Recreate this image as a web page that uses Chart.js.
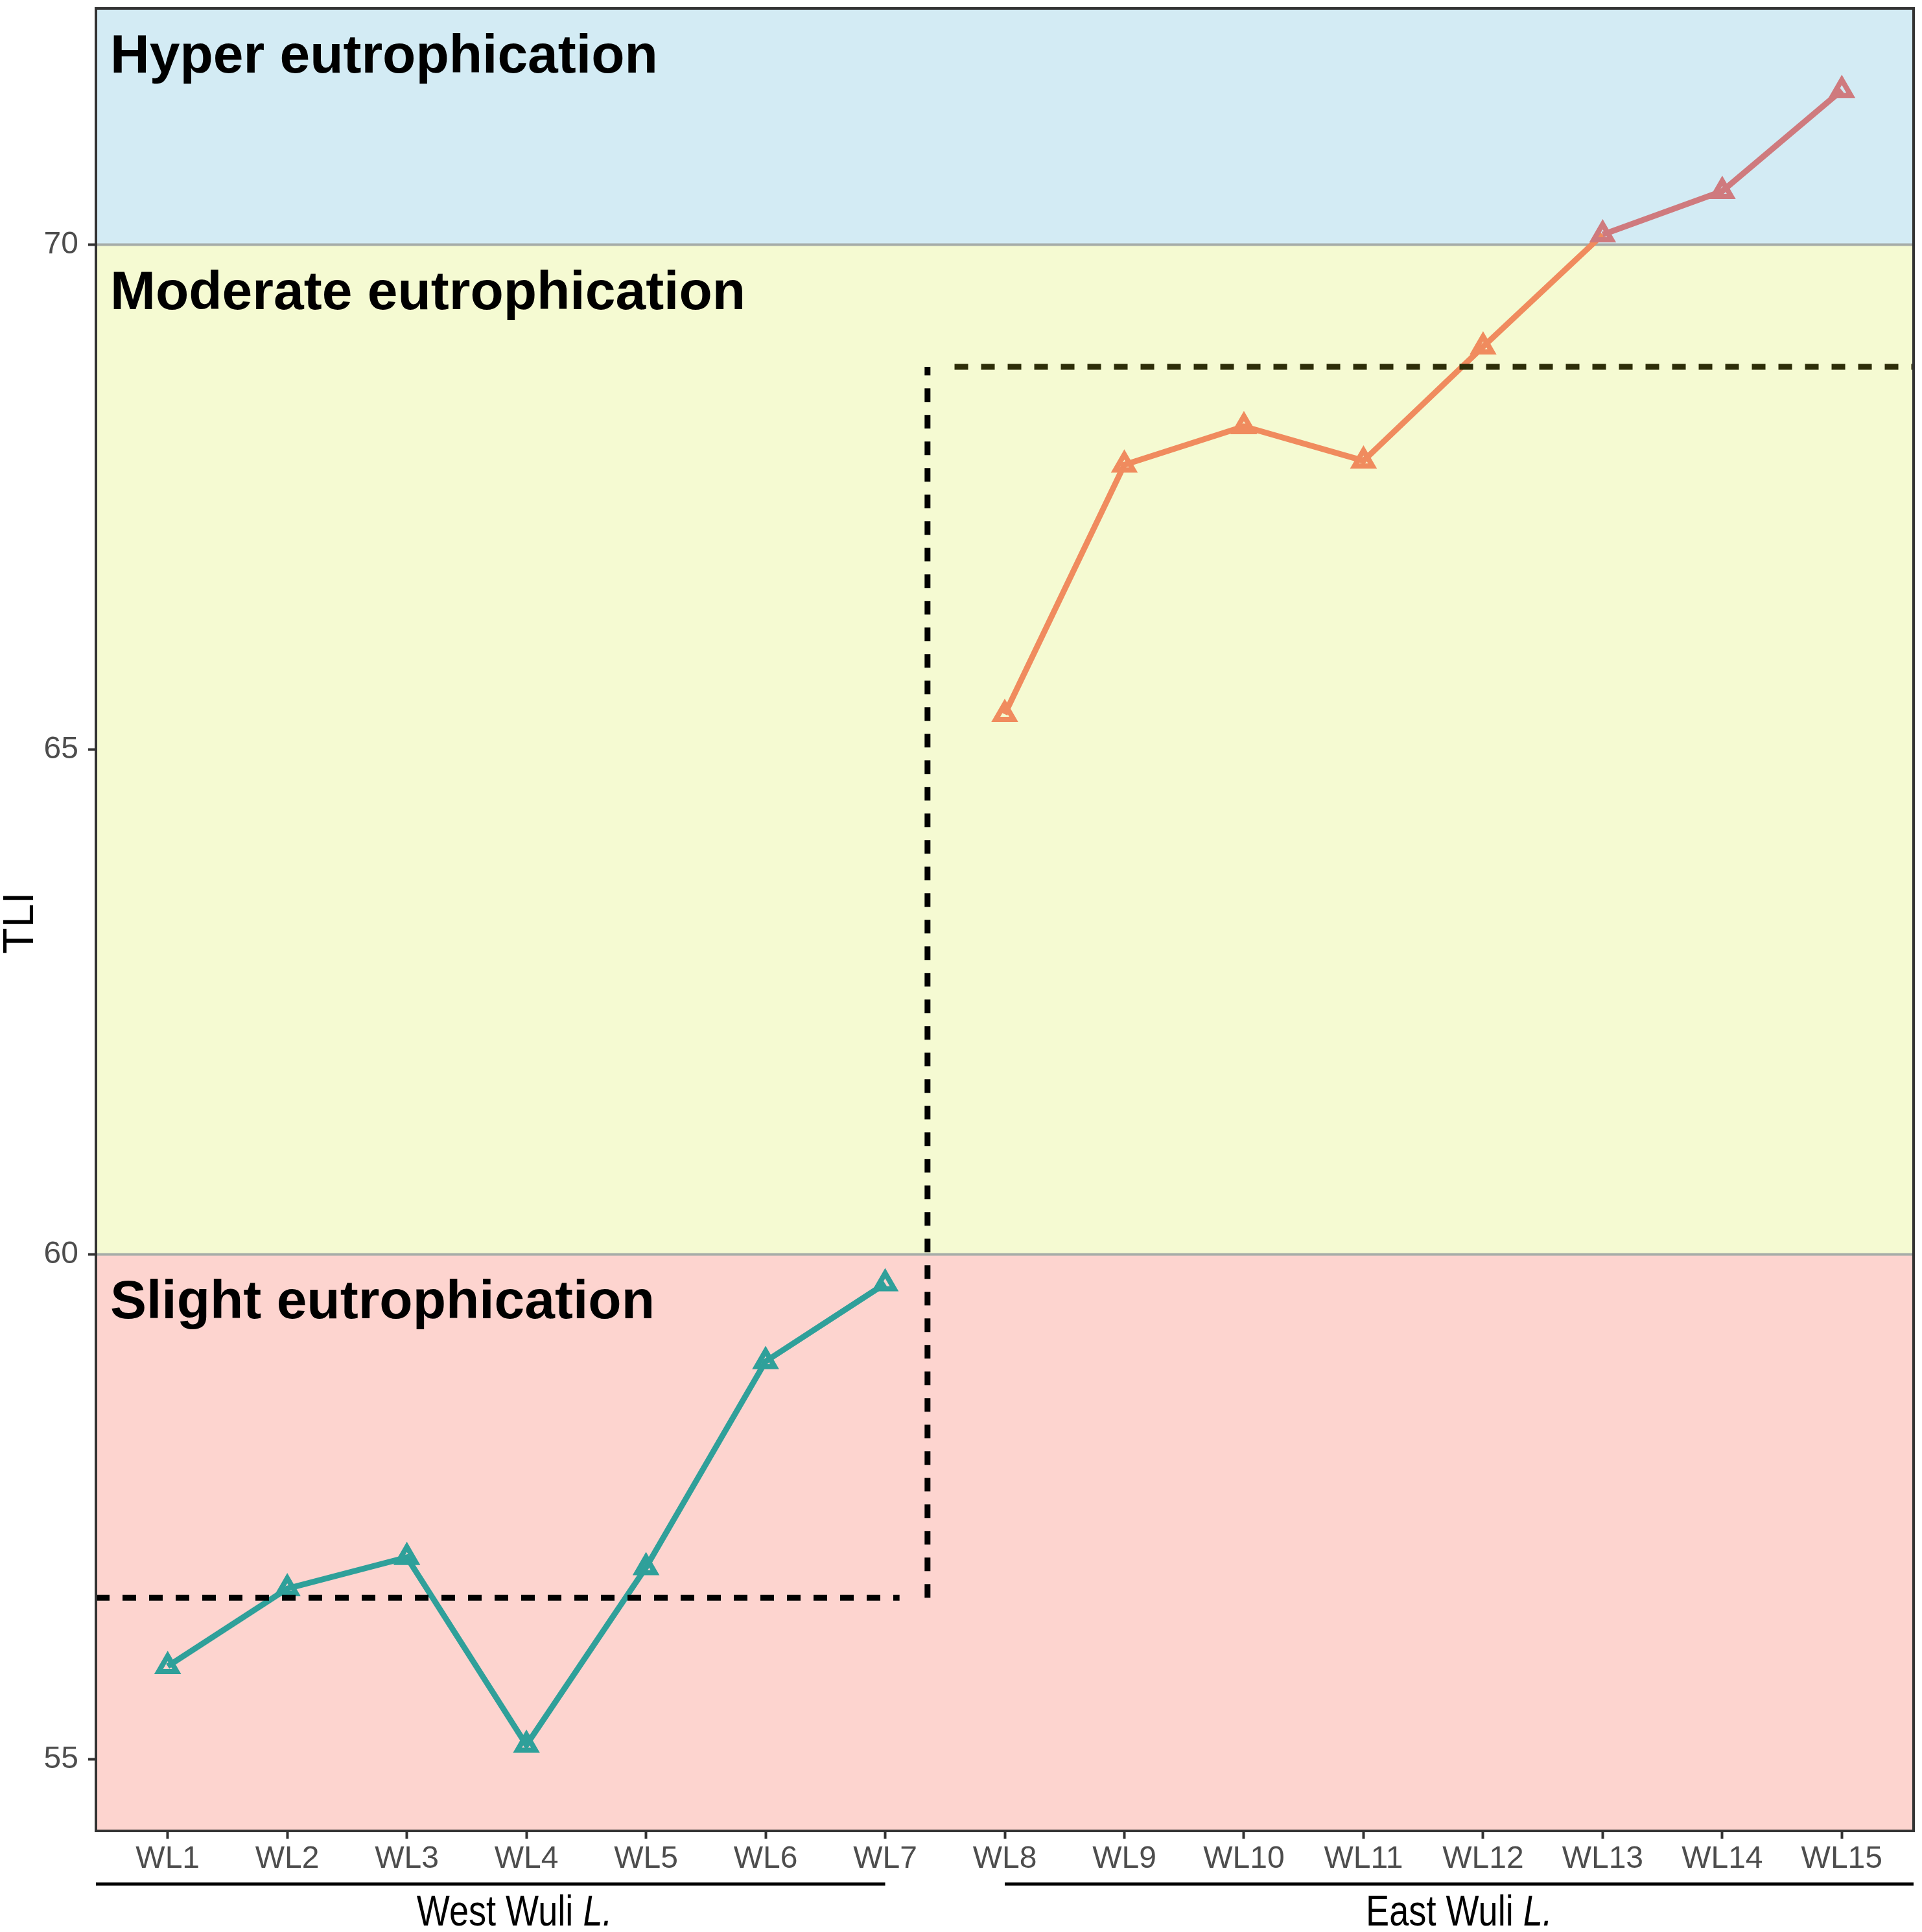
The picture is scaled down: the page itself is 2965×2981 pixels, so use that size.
<!DOCTYPE html>
<html>
<head>
<meta charset="utf-8">
<script src="https://cdn.jsdelivr.net/npm/chart.js@4.4.1/dist/chart.umd.min.js"></script>
<style>
  html, body { margin: 0; padding: 0; background: #fff; }
  #chart { display: block; }
</style>
</head>
<body>
<canvas id="chart" width="2965" height="2981"></canvas>
<script>
// sampling sites, west part of the lake first
const sites = ['WL1', 'WL2', 'WL3', 'WL4', 'WL5', 'WL6', 'WL7', 'WL8',
               'WL9', 'WL10', 'WL11', 'WL12', 'WL13', 'WL14', 'WL15'];
const westTLI = [55.92, 56.69, 57.00, 55.14, 56.90, 58.94, 59.71];
const eastTLI = [65.35, 67.82, 68.20, 67.86, 68.99, 70.10, 70.53, 71.53];

// dashed reference levels for each part
const westLevel = 56.60;
const eastLevel = 68.79;

// trophic classes
const classBreaks = [60, 70];
const classNames = ['Slight eutrophication', 'Moderate eutrophication', 'Hyper eutrophication'];
const yTicks = [55, 60, 65, 70];
const groupNames = ['West Wuli', 'East Wuli'];

const yMin = 54.29, yMax = 72.34;
const xMin = 0.4, xMax = 15.6;

const bandColors = ['#fdd4cf', '#f5fad2', '#d3ebf4'];
const lineColors = ['#2fa09a', '#f08b5e', '#cf7a7e'];
const FONT = "'Liberation Sans', Arial, Helvetica, sans-serif";

function classOf(v) {
    if (v >= classBreaks[1]) return 2;
    if (v >= classBreaks[0]) return 1;
    return 0;
}
const colorOf = v => lineColors[classOf(v)];

const westPoints = westTLI.map((v, i) => ({ x: i + 1, y: v }));
const eastPoints = eastTLI.map((v, i) => ({ x: i + 1 + westTLI.length, y: v }));

const backdrop = {
    id: 'backdrop',
    beforeDatasetsDraw(chart) {
        const { ctx, chartArea: a, scales: { y } } = chart;
        const edges = [a.bottom, y.getPixelForValue(classBreaks[0]), y.getPixelForValue(classBreaks[1]), a.top];
        ctx.save();
        for (let i = 0; i < 3; i++) {
            ctx.fillStyle = bandColors[i];
            ctx.fillRect(a.left, edges[i + 1], a.right - a.left, edges[i] - edges[i + 1]);
        }
        ctx.strokeStyle = '#a6aca8';
        ctx.lineWidth = 4;
        classBreaks.forEach(b => {
            const py = y.getPixelForValue(b);
            ctx.beginPath();
            ctx.moveTo(a.left, py);
            ctx.lineTo(a.right, py);
            ctx.stroke();
        });
        // class names just below the top of each band
        ctx.fillStyle = '#000';
        ctx.font = 'bold 84px ' + FONT;
        ctx.textBaseline = 'alphabetic';
        ctx.textAlign = 'left';
        for (let i = 0; i < 3; i++) {
            ctx.fillText(classNames[i], a.left + 22, edges[i + 1] + 99);
        }
        ctx.restore();
    },
    afterDatasetsDraw(chart) {
        const { ctx, chartArea: a, scales: { x, y } } = chart;
        const split = x.getPixelForValue(7.354);
        const wy = y.getPixelForValue(westLevel);
        const ey = y.getPixelForValue(eastLevel);
        ctx.save();
        ctx.lineWidth = 9;
        ctx.setLineDash([21, 20]);
        ctx.strokeStyle = '#000';
        ctx.beginPath();
        ctx.moveTo(a.left, wy);
        ctx.lineTo(x.getPixelForValue(7.12), wy);
        ctx.stroke();
        ctx.beginPath();
        ctx.moveTo(split, wy);
        ctx.lineTo(split, ey);
        ctx.stroke();
        ctx.strokeStyle = '#2d2d08';
        ctx.beginPath();
        ctx.moveTo(x.getPixelForValue(7.58), ey);
        ctx.lineTo(a.right, ey);
        ctx.stroke();
        ctx.restore();
    },
    afterDraw(chart) {
        const { ctx, chartArea: a, scales: { x } } = chart;
        ctx.save();
        // panel border
        ctx.strokeStyle = '#333';
        ctx.lineWidth = 4;
        ctx.strokeRect(a.left, a.top, a.right - a.left, a.bottom - a.top);

        // y axis title
        ctx.fillStyle = '#000';
        ctx.font = '66px ' + FONT;
        ctx.translate(51, (a.top + a.bottom) / 2 + 5);
        ctx.rotate(-Math.PI / 2);
        ctx.textAlign = 'center';
        ctx.textBaseline = 'alphabetic';
        ctx.fillText('TLI', 0, 0);
        ctx.restore();

        // group brackets under the site names
        const spans = [[xMin, 7], [8, xMax]];
        const centers = [3.9, 11.8];
        ctx.save();
        ctx.strokeStyle = '#000';
        ctx.lineWidth = 5;
        spans.forEach(s => {
            ctx.beginPath();
            ctx.moveTo(x.getPixelForValue(s[0]), 2907);
            ctx.lineTo(x.getPixelForValue(s[1]), 2907);
            ctx.stroke();
        });
        ctx.fillStyle = '#000';
        ctx.textBaseline = 'alphabetic';
        ctx.textAlign = 'left';
        groupNames.forEach((name, i) => {
            const cx = x.getPixelForValue(centers[i]);
            ctx.save();
            ctx.translate(cx, 2971);
            ctx.scale(0.82, 1);
            ctx.font = '66px ' + FONT;
            const w1 = ctx.measureText(name + ' ').width;
            ctx.font = 'italic 66px ' + FONT;
            const w2 = ctx.measureText('L.').width;
            const start = -(w1 + w2) / 2;
            ctx.font = '66px ' + FONT;
            ctx.fillText(name + ' ', start, 0);
            ctx.font = 'italic 66px ' + FONT;
            ctx.fillText('L.', start + w1, 0);
            ctx.restore();
        });
        ctx.restore();
    }
};

function lakeSeries(label, points) {
    return {
        label: label,
        data: points,
        borderWidth: 9,
        borderColor: ctx => colorOf(ctx.raw ? ctx.raw.y : 60),
        segment: { borderColor: ctx => colorOf(ctx.p0.parsed.y) },
        pointStyle: 'triangle',
        pointRadius: 16,
        pointBorderWidth: 8,
        pointBackgroundColor: 'rgba(0,0,0,0)',
        pointBorderColor: ctx => colorOf(ctx.raw.y),
        tension: 0,
        fill: false
    };
}

const axisGrid = {
    display: true,
    drawOnChartArea: false,
    drawTicks: true,
    tickLength: 12,
    tickWidth: 4,
    tickColor: '#333'
};

new Chart(document.getElementById('chart'), {
    type: 'line',
    data: {
        datasets: [lakeSeries('West', westPoints), lakeSeries('East', eastPoints)]
    },
    options: {
        responsive: false,
        animation: false,
        devicePixelRatio: 1,
        layout: { autoPadding: false, padding: { top: 13, right: 13, left: 0, bottom: 0 } },
        plugins: { legend: { display: false }, tooltip: { enabled: false } },
        scales: {
            x: {
                type: 'linear',
                min: xMin,
                max: xMax,
                afterBuildTicks: s => { s.ticks = sites.map((_, i) => ({ value: i + 1 })); },
                afterFit: s => {
                    s.height = 156;
                    s.paddingLeft = 0;
                    s.paddingRight = 0;
                },
                ticks: {
                    callback: v => sites[Math.round(v) - 1],
                    autoSkip: false,
                    maxRotation: 0,
                    padding: 3,
                    color: '#4d4d4d',
                    font: { family: FONT, size: 48 }
                },
                grid: axisGrid,
                border: { display: false }
            },
            y: {
                min: yMin,
                max: yMax,
                afterBuildTicks: s => { s.ticks = yTicks.map(v => ({ value: v })); },
                afterFit: s => {
                    s.width = 148;
                    s.paddingTop = 0;
                    s.paddingBottom = 0;
                },
                ticks: {
                    padding: 15,
                    color: '#4d4d4d',
                    font: { family: FONT, size: 48 }
                },
                grid: axisGrid,
                border: { display: false }
            }
        }
    },
    plugins: [backdrop]
});
</script>
</body>
</html>
